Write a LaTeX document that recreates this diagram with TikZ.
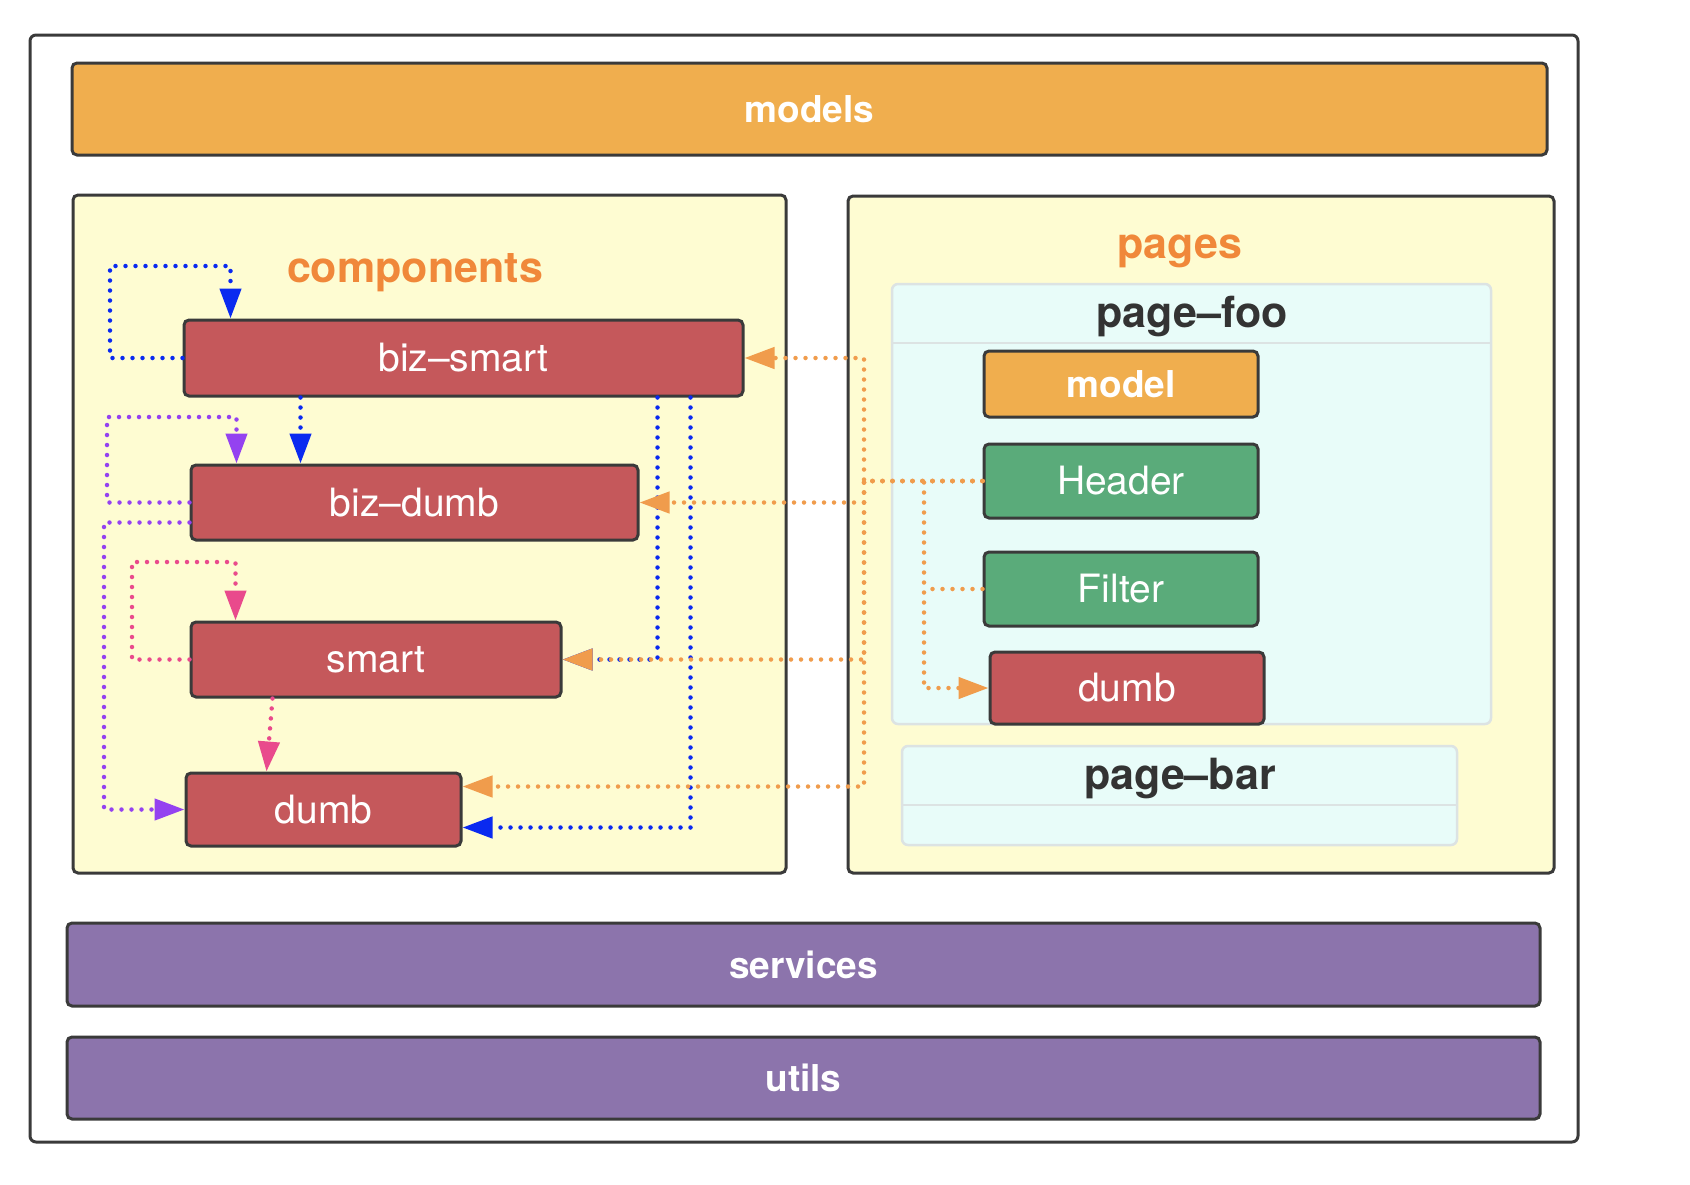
\documentclass[tikz,border=0pt]{standalone}
\usepackage{fontspec}
\setmainfont{TeX Gyre Heros}
\usepackage{tikz}
\usetikzlibrary{arrows.meta}

\definecolor{linegray}{HTML}{3A3A3A}
\definecolor{modelorange}{HTML}{F0AE4E}
\definecolor{compyellow}{HTML}{FEFCD2}
\definecolor{pagecyan}{HTML}{E8FCF9}
\definecolor{pageborder}{HTML}{DCE3E3}
\definecolor{boxred}{HTML}{C5585B}
\definecolor{boxgreen}{HTML}{5AAB7A}
\definecolor{barpurple}{HTML}{8C74AC}
\definecolor{titleorange}{HTML}{F0883A}
\definecolor{titledark}{HTML}{333333}
\definecolor{arrblue}{HTML}{0A2AF0}
\definecolor{arrpurple}{HTML}{9442F0}
\definecolor{arrpink}{HTML}{E94A8C}
\definecolor{arrorange}{HTML}{F09C4C}

\newcommand{\boxfont}{\fontsize{39}{44}\selectfont}
\newcommand{\barfont}{\fontsize{37}{42}\selectfont\bfseries}
\newcommand{\headfont}{\fontsize{43}{48}\selectfont\bfseries}

\begin{document}
\begin{tikzpicture}[x=1pt, y=-1pt,
	box/.style={draw=linegray, line width=3pt, rounded corners=5pt, inner sep=0pt},
	bar/.style={box, text=white, font=\barfont},
	redbox/.style={box, fill=boxred, text=white, font=\boxfont},
	greenbox/.style={box, fill=boxgreen, text=white, font=\boxfont},
	group/.style={box, fill=compyellow},
	page/.style={draw=pageborder, line width=2.5pt, fill=pagecyan, rounded corners=6pt, inner sep=0pt},
	dots/.style={line width=4.5pt, line cap=round, dash pattern=on 0pt off 10pt, -{Triangle[length=30pt, width=21pt]}},
	bluedots/.style={dots, draw=arrblue, arrblue},
	purpledots/.style={dots, draw=arrpurple, arrpurple},
	pinkdots/.style={dots, draw=arrpink, arrpink},
	orangedots/.style={dots, draw=arrorange, arrorange}]

	\useasboundingbox (0,0) rectangle (1690,1184);

	% Nodes
	\node[draw=linegray, line width=3pt, rounded corners=6pt, minimum width=1548pt, minimum height=1107pt] (frame) at (804,588.5) {};
	\node[bar, fill=modelorange, minimum width=1475pt, minimum height=92pt] (models) at (809.5,109) {models};

	\node[group, minimum width=713pt, minimum height=678pt] (components) at (429.5,534) {};
		\node[anchor=base, text=titleorange, font=\headfont] (comptitle) at (415,282) {components};
	\node[group, minimum width=706pt, minimum height=677pt] (pages) at (1201,534.5) {};
		\node[anchor=base, text=titleorange, font=\headfont] (pagestitle) at (1180,258) {pages};

	\node[page, minimum width=599pt, minimum height=440pt] (pagefoo) at (1191.5,504) {};
		\draw[draw=pageborder, line width=2.5pt] ([yshift=-60pt]pagefoo.north west) -- ([yshift=-60pt]pagefoo.north east);
		\node[anchor=base, text=titledark, font=\headfont] (footitle) at (1192,327) {page–foo};
	\node[page, minimum width=555pt, minimum height=99pt] (pagebar) at (1179.5,795.5) {};
		\draw[draw=pageborder, line width=2.5pt] ([yshift=-60pt]pagebar.north west) -- ([yshift=-60pt]pagebar.north east);
		\node[anchor=base, text=titledark, font=\headfont] (bartitle) at (1180,789) {page–bar};

	\node[bar, fill=modelorange, minimum width=274pt, minimum height=66pt] (model) at (1121,384) {model};
	\node[greenbox, minimum width=274pt, minimum height=74pt] (header) at (1121,481) {Header};
	\node[greenbox, minimum width=274pt, minimum height=74pt] (filter) at (1121,589) {Filter};
	\node[redbox, minimum width=274pt, minimum height=72pt] (pdumb) at (1127,688) {dumb};

	\node[redbox, minimum width=559pt, minimum height=76pt] (bizsmart) at (463.5,358) {biz–smart};
	\node[redbox, minimum width=447pt, minimum height=75pt] (bizdumb) at (414.5,502.5) {biz–dumb};
	\node[redbox, minimum width=370pt, minimum height=75pt] (smart) at (376,659.5) {smart};
	\node[redbox, minimum width=275pt, minimum height=73pt] (dumb) at (323.5,809.5) {dumb};

	\node[bar, fill=barpurple, minimum width=1473pt, minimum height=83pt] (services) at (803.5,964.5) {services};
	\node[bar, fill=barpurple, minimum width=1473pt, minimum height=82pt] (utils) at (803.5,1078) {utils};

	\coordinate (trunk) at (864,481);
	\coordinate (hub) at (924,481);

	% Arrows
	\draw[bluedots] (bizsmart.west) -| (110,266) -| ([xshift=48pt]bizsmart.north west);
	\draw[bluedots] ([xshift=118pt]bizsmart.south west) -- ([xshift=111pt]bizdumb.north west);
	\draw[bluedots] ([xshift=-87pt]bizsmart.south east) |- (smart.east);
	\draw[bluedots] ([xshift=-54pt]bizsmart.south east) |- ([yshift=-18pt]dumb.east);

	\draw[purpledots] (bizdumb.west) -| (107,417) -| ([xshift=47pt]bizdumb.north west);
	\draw[purpledots] ([yshift=-20pt]bizdumb.west) -| (104,809.5) -- (dumb.west);

	\draw[pinkdots] (smart.west) -| (132,562) -| ([xshift=46pt]smart.north west);
	\draw[pinkdots] ([xshift=83pt]smart.south west) -- ([xshift=82pt]dumb.north west);

	\draw[orangedots] (header.west) -- (trunk) |- (bizsmart.east);
	\draw[orangedots] (header.west) -- (trunk) |- (bizdumb.east);
	\draw[orangedots] (header.west) -- (trunk) |- (smart.east);
	\draw[orangedots] (header.west) -- (trunk) |- ([yshift=23pt]dumb.east);
	\draw[orangedots] (header.west) -- (hub) |- (pdumb.west);
	\draw[orangedots, -] (filter.west) -- (filter.west -| hub);

\end{tikzpicture}
\end{document}
